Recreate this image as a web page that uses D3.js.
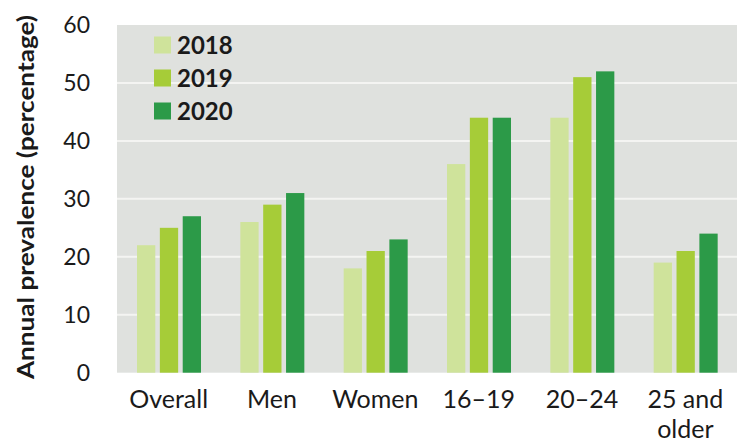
<!DOCTYPE html>
<html>
<head>
<meta charset="utf-8">
<script src="https://cdn.jsdelivr.net/npm/d3@7"></script>
<style>
  body { margin: 0; background: #fff; }
  svg text { font-family: Lato, "Open Sans", sans-serif; fill: #1a1a1a; }
</style>
</head>
<body>
<div id="chart"></div>
<script>
const categories = ["Overall", "Men", "Women", "16–19", "20–24", "25 and older"];
const years = ["2018", "2019", "2020"];
const values2018 = [22, 26, 18, 36, 44, 19];
const values2019 = [25, 29, 21, 44, 51, 21];
const values2020 = [27, 31, 23, 44, 52, 24];
const yTicks = [0, 10, 20, 30, 40, 50, 60];
const colors = ["#cfe39b", "#a6cc38", "#2c9a48"];

const series = [values2018, values2019, values2020];

const width = 737;
const height = 443;
const margin = { top: 25, right: 0, bottom: 70, left: 117 };

const svg = d3.select("#chart")
    .append("svg")
    .attr("width", width)
    .attr("height", height);

const x = d3.scaleBand()
    .domain(categories)
    .range([margin.left, width - margin.right])
    .padding(0);

const x1 = d3.scaleBand()
    .domain(years)
    .range([20, 84])
    .paddingInner(0.2);

const y = d3.scaleLinear()
    .domain([0, 60])
    .range([height - margin.bottom - 0.3, margin.top]);

// plot background
svg.append("rect")
    .attr("x", margin.left)
    .attr("y", margin.top)
    .attr("width", width - margin.left - margin.right)
    .attr("height", y(0) - margin.top)
    .attr("fill", "#dfe1de");

// gridlines
svg.append("g")
    .selectAll("line")
    .data(yTicks.filter(d => d > 0 && d < 60))
    .join("line")
    .attr("x1", margin.left)
    .attr("x2", width - margin.right)
    .attr("y1", d => y(d))
    .attr("y2", d => y(d))
    .attr("stroke", "#f4f4f2")
    .attr("stroke-width", 2);

// bars
const groups = svg.append("g")
    .selectAll("g")
    .data(categories)
    .join("g")
    .attr("transform", d => `translate(${x(d)},0)`);

groups.selectAll("rect")
    .data((d, i) => years.map((yr, j) => ({ year: yr, value: series[j][i], color: colors[j] })))
    .join("rect")
    .attr("x", d => x1(d.year))
    .attr("width", x1.bandwidth())
    .attr("y", d => y(d.value))
    .attr("height", d => y(0) - y(d.value))
    .attr("fill", d => d.color);

// y axis labels
svg.append("g")
    .selectAll("text")
    .data(yTicks)
    .join("text")
    .attr("x", 90)
    .attr("y", d => y(d))
    .attr("dy", "0.35em")
    .attr("text-anchor", "end")
    .attr("font-size", 23)
    .text(d => d);

// x axis labels
const xLabels = svg.append("g")
    .selectAll("text")
    .data(categories)
    .join("text")
    .attr("x", d => x(d) + x.bandwidth() / 2)
    .attr("y", 408)
    .attr("text-anchor", "middle")
    .attr("font-size", 25);

xLabels.each(function (d) {
    const t = d3.select(this);
    if (d === "25 and older") {
        t.append("tspan").attr("x", x(d) + x.bandwidth() / 2).text("25 and");
        t.append("tspan").attr("x", x(d) + x.bandwidth() / 2).attr("dy", 30).text("older");
    } else {
        t.text(d);
    }
});

// y axis title
svg.append("text")
    .attr("transform", `translate(34,${197}) rotate(-90)`)
    .attr("text-anchor", "middle")
    .attr("font-size", 23)
    .attr("font-weight", "bold")
    .attr("textLength", 364)
    .attr("lengthAdjust", "spacingAndGlyphs")
    .text("Annual prevalence (percentage)");

// legend
const legend = svg.append("g")
    .selectAll("g")
    .data(years)
    .join("g")
    .attr("transform", (d, i) => `translate(154,${45 + i * 33})`);

legend.append("rect")
    .attr("x", 0)
    .attr("y", -8.5)
    .attr("width", 17)
    .attr("height", 17)
    .attr("fill", (d, i) => colors[i]);

legend.append("text")
    .attr("x", 23)
    .attr("dy", "0.36em")
    .attr("font-size", 24)
    .attr("font-weight", "bold")
    .text(d => d);
</script>
</body>
</html>
